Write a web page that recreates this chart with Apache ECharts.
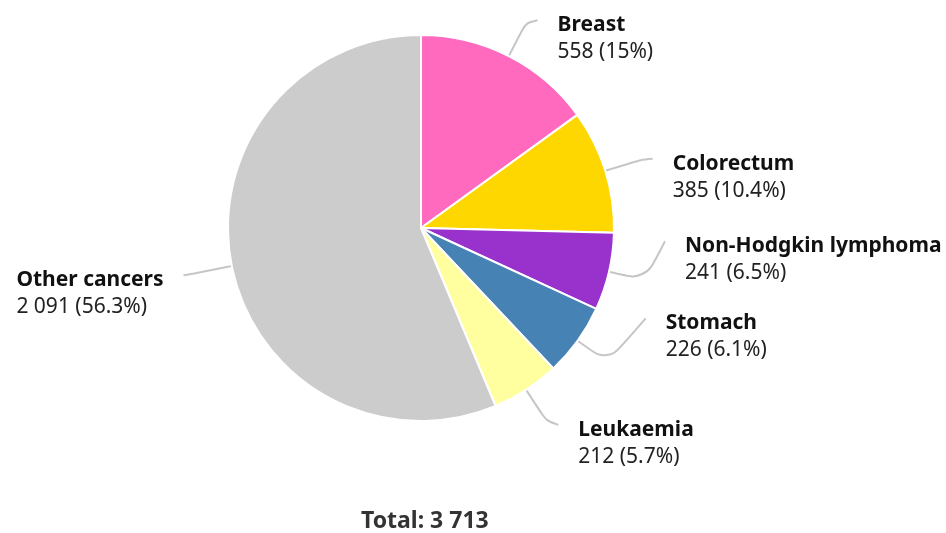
<!DOCTYPE html>
<html><head><meta charset="utf-8">
<script src="https://cdn.jsdelivr.net/npm/echarts@6/dist/echarts.min.js"></script>
<style>html,body{margin:0;padding:0;background:#fff}#c{width:946px;height:533px}</style>
</head><body><div id="c"></div>
<script>
const categories = ["Breast","Colorectum","Non-Hodgkin lymphoma","Stomach","Leukaemia","Other cancers"];
const values = [558,385,241,226,212,2091];
const percents = ["15%","10.4%","6.5%","6.1%","5.7%","56.3%"];
const valueLabels = ["558","385","241","226","212","2 091"];
const colors = ["#FF69BE","#FFD700","#9932CC","#4682B4","#FFFFA0","#CCCCCC"];
const totalLabel = "Total: 3 713";
// label placement nudges (layout only)
const labelShiftX = [0,0,8,26,0,0];
const labelShiftY = [-3,-1,-39,-44,4,2];

const chart = echarts.init(document.getElementById('c'));
chart.setOption({
  animation:false,
  title:{text:totalLabel,left:356,top:505,textStyle:{fontFamily:'Noto Sans',fontSize:23,fontWeight:'bold',color:'#333'}},
  series:[{
    type:'pie',
    center:[421,228],
    radius:193,
    startAngle:90,
    clockwise:true,
    avoidLabelOverlap:false,
    data:categories.map((c,i)=>({name:c,value:values[i],itemStyle:{color:colors[i]}})),
    itemStyle:{borderColor:'#fff',borderWidth:2},
    label:{
      show:true,
      formatter:(p)=>'{n|'+p.name+'}\n{v|'+valueLabels[p.dataIndex]+' ('+percents[p.dataIndex]+')}',
      fontFamily:'Noto Sans',
      fontSize:21,
      lineHeight:27,
      padding:[37,0,0,0],
      distanceToLabelLine:20,
      rich:{
        n:{fontFamily:'Noto Sans',fontSize:21,fontWeight:'bold',color:'#111',lineHeight:27,align:'left'},
        v:{fontFamily:'Noto Sans',fontSize:21,color:'#222',lineHeight:27,align:'left'}
      }
    },
    labelLine:{show:true,length:37,length2:12,smooth:true,lineStyle:{color:'#c6c6c6',width:2}},
    labelLayout:function(p){
      const dx = labelShiftX[p.dataIndex], dy = labelShiftY[p.dataIndex];
      const pts = p.labelLinePoints;
      if(!pts) return {dx:dx,dy:dy};
      const np = [pts[0].slice(), pts[1].slice(), [pts[2][0]+dx, pts[2][1]+dy]];
      return {dx:dx,dy:dy,labelLinePoints:np};
    }
  }]
});
</script></body></html>
